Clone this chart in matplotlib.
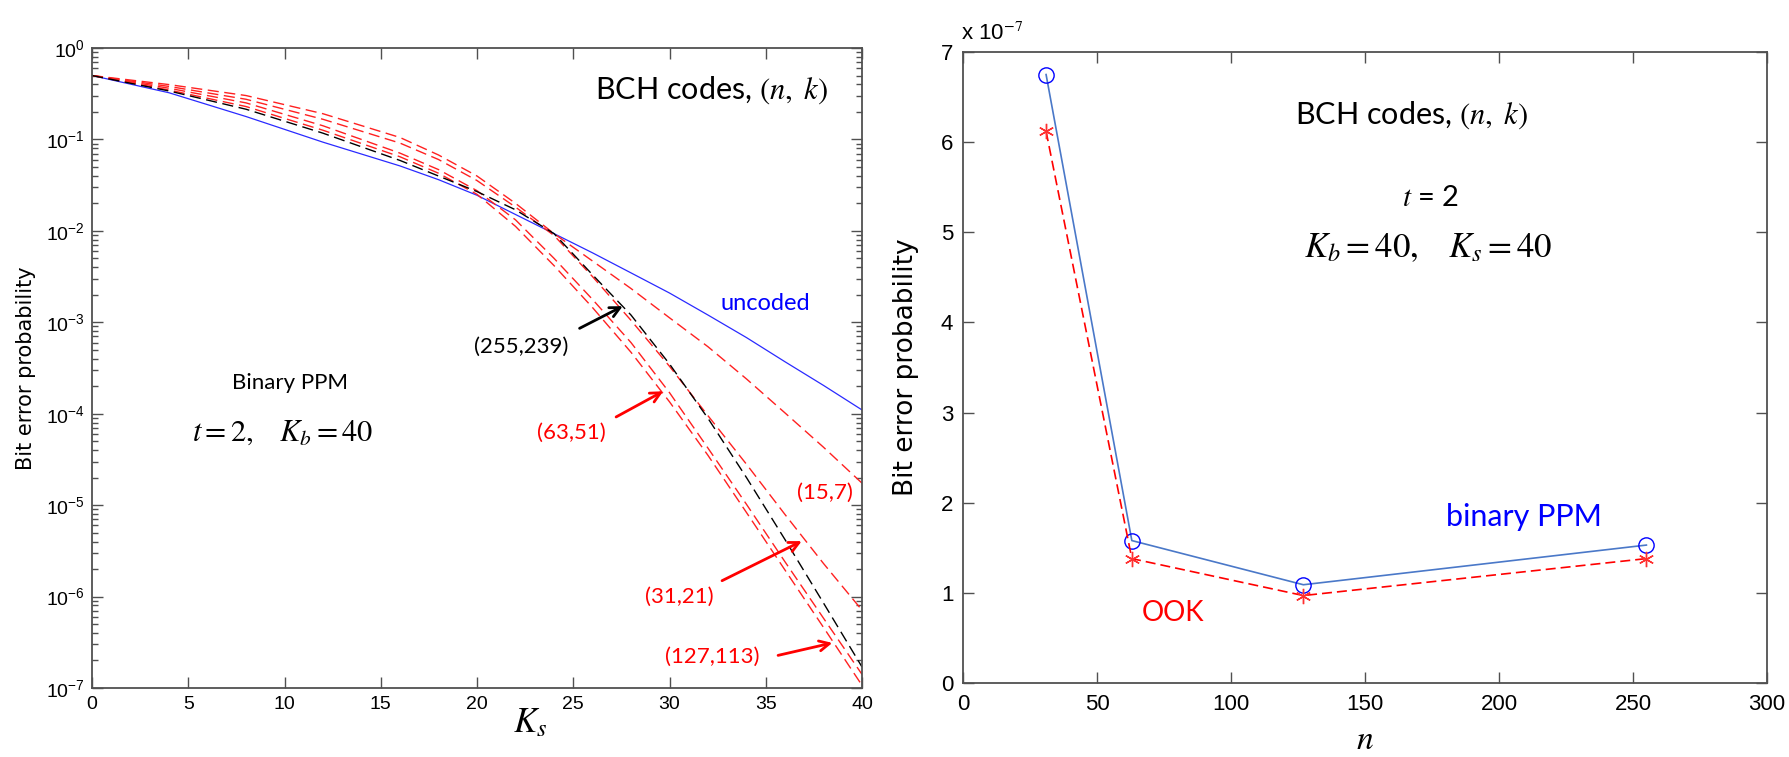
import matplotlib
matplotlib.use('Agg')
import matplotlib.pyplot as plt
from matplotlib.ticker import LogLocator, MultipleLocator, NullFormatter, LogFormatterMathtext, FuncFormatter

plt.rcParams['mathtext.fontset'] = 'stix'
plt.rcParams['font.family'] = ['Liberation Sans', 'DejaVu Sans']

# ---------------- left panel data ----------------
ks = [0, 4, 8, 12, 16, 18, 20, 22, 24, 26, 28, 30, 32, 34, 36, 38, 40]
p_uncoded = [0.50, 0.324, 0.178, 0.0933, 0.0513, 0.0363, 0.0245, 0.0151, 0.00933, 0.00575,
             0.00347, 0.00209, 0.00120, 6.8e-4, 3.7e-4, 2.04e-4, 1.10e-4]
p_15_7 = [0.50, 0.398, 0.302, 0.191, 0.105, 0.0676, 0.0398, 0.0200, 0.00933, 0.00468,
          0.00234, 0.00112, 5.4e-4, 2.4e-4, 1.02e-4, 4.3e-5, 1.74e-5]
p_31_21 = [0.50, 0.380, 0.275, 0.166, 0.0912, 0.0603, 0.0355, 0.0182, 0.00891, 0.00316,
           1.05e-3, 3.3e-4, 9.5e-5, 2.8e-5, 7.9e-6, 2.3e-6, 7.1e-7]
p_63_51 = [0.50, 0.363, 0.251, 0.141, 0.0708, 0.0468, 0.0275, 0.0132, 0.00501, 0.00178,
           6.0e-4, 1.70e-4, 4.2e-5, 1.02e-5, 2.4e-6, 5.8e-7, 1.41e-7]
p_127_113 = [0.50, 0.347, 0.229, 0.126, 0.0646, 0.0427, 0.0251, 0.0112, 0.00417, 0.00145,
             4.7e-4, 1.35e-4, 3.5e-5, 8.3e-6, 1.95e-6, 4.6e-7, 1.07e-7]
p_255_239 = [0.50, 0.339, 0.214, 0.117, 0.0589, 0.0398, 0.0269, 0.0170, 0.00933, 0.00331,
             1.20e-3, 3.5e-4, 8.9e-5, 2.0e-5, 4.2e-6, 8.5e-7, 1.70e-7]
red_codes = [p_15_7, p_31_21, p_63_51, p_127_113]

# ---------------- right panel data ----------------
n_vals = [31, 63, 127, 255]
ber_ppm = [6.75e-7, 1.58e-7, 1.09e-7, 1.53e-7]
ber_ook = [6.12e-7, 1.38e-7, 0.97e-7, 1.38e-7]

W, H = 1789, 757
fig = plt.figure(figsize=(W / 100, H / 100), dpi=100)
fig.patch.set_facecolor('white')

SPC = '#505050'
ANN = ['Lato', 'DejaVu Sans']

def style_axes(ax, lsize, pad_x, pad_y):
    for s in ax.spines.values():
        s.set_color(SPC)
        s.set_linewidth(1.3)
    ax.tick_params(which='both', direction='in', top=True, right=True, colors=SPC,
                   labelcolor='black', width=1.0)
    ax.tick_params(which='major', length=8, labelsize=lsize)
    ax.tick_params(which='minor', length=4)
    ax.tick_params(axis='x', pad=pad_x)
    ax.tick_params(axis='y', pad=pad_y)

# ================= LEFT =================
axL = fig.add_axes([92 / W, 1 - 688 / H, 770 / W, 640 / H])
axL.semilogy(ks, p_uncoded, color='#2a2aff', lw=0.9)
for p in red_codes:
    axL.semilogy(ks, p, color='#ff2020', lw=1.0, dashes=(8, 4))
axL.semilogy(ks, p_255_239, color='black', lw=1.0, dashes=(8, 4))
axL.set_xlim(0, 40)
axL.set_ylim(1e-7, 1)
axL.xaxis.set_major_locator(MultipleLocator(5))
axL.yaxis.set_major_locator(LogLocator(base=10, numticks=20))
axL.yaxis.set_minor_locator(LogLocator(base=10, subs=range(2, 10), numticks=20))
axL.yaxis.set_minor_formatter(NullFormatter())
axL.yaxis.set_major_formatter(LogFormatterMathtext())
style_axes(axL, 14, 6, 5)

axL.set_ylabel('Bit error probability', fontsize=15, family='DejaVu Sans')
axL.yaxis.set_label_coords((36 - 92) / 770, 0.5)
axL.set_xlabel(r'$K_s$', fontsize=25)
axL.xaxis.set_label_coords((530 - 92) / 770, -0.028)

axL.text(32.2, 10 ** -0.46, r'BCH codes, $(n,\ k)$', fontsize=22, family=ANN,
         ha='center', va='center')
axL.text(35.0, 10 ** -2.79, 'uncoded', fontsize=17, family=ANN, color='#0000ff',
         ha='center', va='center')
axL.text(10.3, 10 ** -3.66, 'Binary PPM', fontsize=16, family=ANN, ha='center', va='center')
axL.text(9.9, 10 ** -4.21, r'$t = 2,\quad K_b = 40$', fontsize=22, ha='center', va='center')

ap_k = dict(arrowstyle='->', lw=2, color='black', mutation_scale=18)
ap_r = dict(arrowstyle='->', lw=2, color='#ff0000', mutation_scale=18)
axL.text(22.3, 10 ** -3.27, '(255,239)', fontsize=16, family=ANN, ha='center', va='center')
axL.annotate('', xy=(27.7, 10 ** -2.81), xytext=(25.2, 10 ** -3.08), arrowprops=ap_k)
axL.text(24.9, 10 ** -4.21, '(63,51)', fontsize=16, family=ANN, color='#ff0000',
         ha='center', va='center')
axL.annotate('', xy=(29.8, 10 ** -3.74), xytext=(27.1, 10 ** -4.05), arrowprops=ap_r)
axL.text(38.1, 10 ** -4.87, '(15,7)', fontsize=16, family=ANN, color='#ff0000',
         ha='center', va='center')
axL.text(30.5, 10 ** -6.0, '(31,21)', fontsize=16, family=ANN, color='#ff0000',
         ha='center', va='center')
axL.annotate('', xy=(37.0, 10 ** -5.38), xytext=(32.6, 10 ** -5.84), arrowprops=ap_r)
axL.text(32.2, 10 ** -6.66, '(127,113)', fontsize=16, family=ANN, color='#ff0000',
         ha='center', va='center')
axL.annotate('', xy=(38.6, 10 ** -6.5), xytext=(35.5, 10 ** -6.65), arrowprops=ap_r)

# ================= RIGHT =================
axR = fig.add_axes([963 / W, 1 - 683 / H, 804 / W, 631 / H])
axR.plot(n_vals, ber_ppm, color='#4a78c8', lw=1.2, marker='o', ms=11, mfc='none',
         mec='#0000ff', mew=1.0)
axR.plot(n_vals, ber_ook, color='#ff0000', lw=1.2, dashes=(6, 3), marker=(6, 2, 0), ms=11,
         mec='#ff3030', mew=1.0)
axR.set_xlim(0, 300)
axR.set_ylim(0, 7e-7)
axR.xaxis.set_major_locator(MultipleLocator(50))
axR.yaxis.set_major_locator(MultipleLocator(1e-7))
axR.yaxis.set_major_formatter(FuncFormatter(lambda v, pos: '%d' % round(v * 1e7)))
style_axes(axR, 16, 8, 7)
axR.text(-0.003, 1.012, r'x 10$^{-7}$', transform=axR.transAxes, fontsize=16,
         ha='left', va='bottom')

axR.set_ylabel('Bit error probability', fontsize=19, family='DejaVu Sans')
axR.yaxis.set_label_coords((919 - 963) / 804, 0.5)
axR.set_xlabel(r'$n$', fontsize=24)
axR.xaxis.set_label_coords(0.5, -0.066)

axR.text(167.5, 6.30e-7, r'BCH codes, $(n,\ k)$', fontsize=22, family=ANN,
         ha='center', va='center')
axR.text(174.3, 5.38e-7, r'$t$ = 2', fontsize=21, family=ANN, ha='center', va='center')
axR.text(173.5, 4.83e-7, r'$K_b = 40,\quad K_s = 40$', fontsize=25, ha='center', va='center')
axR.text(209.3, 1.84e-7, 'binary PPM', fontsize=22, family=ANN, color='#0000ff',
         ha='center', va='center')
axR.text(78.4, 0.78e-7, 'OOK', fontsize=20, family=ANN, color='#ff0000',
         ha='center', va='center')

fig.savefig('out.png', dpi=100)
